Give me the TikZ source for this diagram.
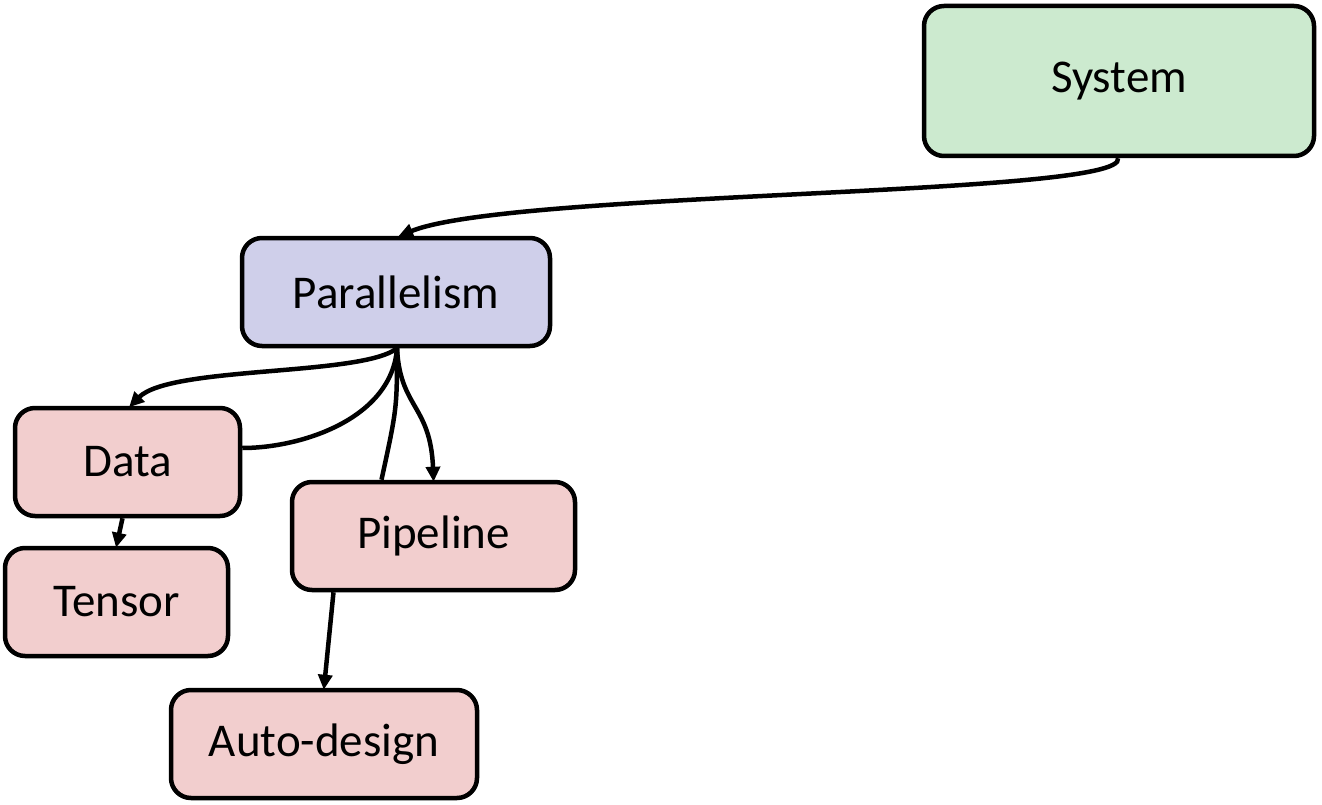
\documentclass[tikz,border=0pt]{standalone}
\usepackage{fontspec}
\setmainfont{Carlito}
\usetikzlibrary{arrows.meta}
\definecolor{sysgreen}{RGB}{204,234,207}
\definecolor{parlav}{RGB}{207,207,234}
\definecolor{leafpink}{RGB}{242,206,206}
\tikzset{
  box/.style={draw=black, line width=4.5pt, rounded corners=20pt, inner sep=0pt,
    font=\fontsize{47}{50}\selectfont, text=black},
  conn/.style={line width=4.5pt, draw=black},
  arr/.style={conn, -{Triangle[length=15pt,width=14pt]}, shorten >=-2pt},
}
\begin{document}
\begin{tikzpicture}[x=1pt,y=-1pt]
\useasboundingbox (0,0) rectangle (1322,805);
\node[box, fill=sysgreen, minimum width=390pt, minimum height=150pt] (sys) at (1119,81) {\raisebox{-3pt}{System}};
\node[box, fill=parlav, minimum width=308pt, minimum height=108pt] (par) at (396,292) {Parallelism};
\node[box, fill=leafpink, minimum width=225pt, minimum height=108pt] (data) at (127.5,462) {Data};
\node[box, fill=leafpink, minimum width=223pt, minimum height=108pt] (tensor) at (116.5,602) {Tensor};
\node[box, fill=leafpink, minimum width=283pt, minimum height=108pt] (pipe) at (433.5,536) {Pipeline};
\node[box, fill=leafpink, minimum width=306pt, minimum height=108pt] (auto) at (324,744) {Auto-design};

\draw[arr] ([xshift=-1pt]sys.south) .. controls +(10pt,-38pt) and +(110pt,45pt) .. ([xshift=4pt]par.north);
\draw[arr] ([xshift=1pt]par.south) .. controls +(-35pt,-28pt) and +(40pt,40pt) .. ([xshift=3pt]data.north);
\draw[conn] ([xshift=1pt]par.south) .. controls +(-5pt,-70pt) and +(60pt,0pt) .. ([yshift=14pt]data.east);
\draw[conn] ([xshift=1pt]par.south) .. controls +(0pt,-60pt) .. ([xshift=-52pt]pipe.north);
\draw[arr] ([xshift=1pt]par.south) .. controls +(3pt,-60pt) and +(-3pt,75pt) .. (pipe.north);
\draw[arr] ([xshift=-5pt]data.south) -- (tensor.north);
\draw[arr] ([xshift=-100pt]pipe.south) -- (auto.north);
\end{tikzpicture}
\end{document}
